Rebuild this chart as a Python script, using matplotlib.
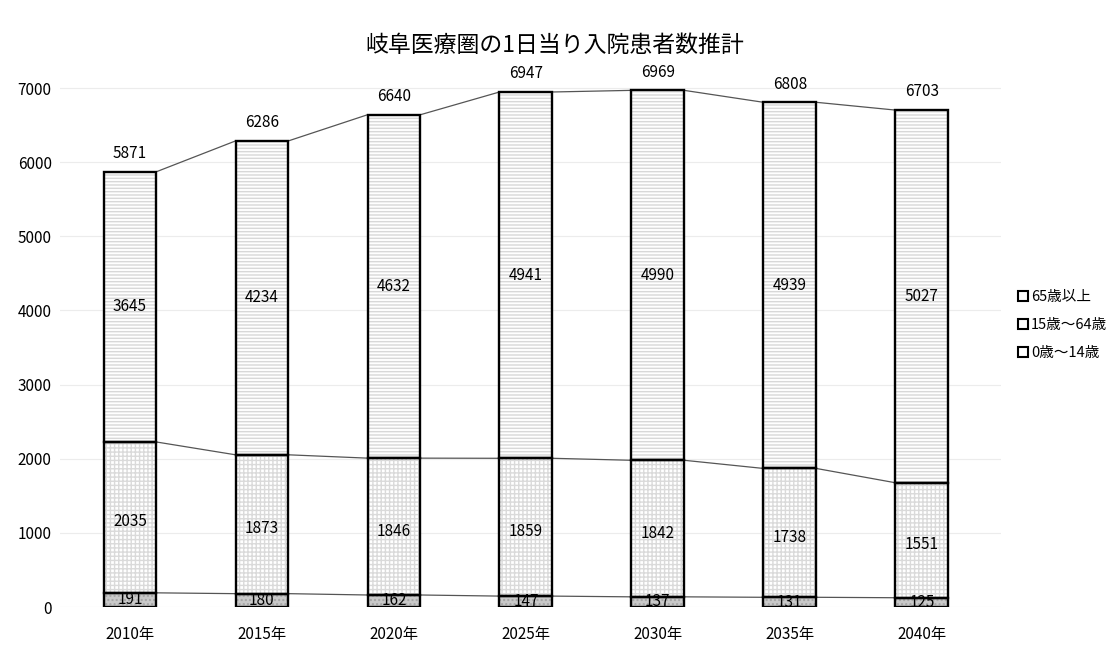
import numpy as np
import matplotlib
matplotlib.use('Agg')
import matplotlib.pyplot as plt
from matplotlib.patches import Patch

plt.rcParams['font.family'] = ['Noto Sans CJK JP', 'DejaVu Sans']

years = ['2010年', '2015年', '2020年', '2025年', '2030年', '2035年', '2040年']
age_0_14 = [191, 180, 162, 147, 137, 131, 125]
age_15_64 = [2035, 1873, 1846, 1859, 1842, 1738, 1551]
age_65 = [3645, 4234, 4632, 4941, 4990, 4939, 5027]
totals = [5871, 6286, 6640, 6947, 6969, 6808, 6703]

fig = plt.figure(figsize=(11.1, 6.45), dpi=100)
ax = fig.add_axes([60 / 1110, 38 / 645, 941 / 1110, 556 / 645])

x = np.arange(len(years))
w = 0.40
a = np.array(age_0_14)
b = np.array(age_15_64)
c = np.array(age_65)

# fill layer with patterns, then a black outline on top
ax.bar(x, a, w, color='#c9c9c9', edgecolor='#a5a5a5', hatch='....', linewidth=0, zorder=2)
ax.bar(x, b, w, bottom=a, color='white', edgecolor='#dadada', hatch='++++', linewidth=0, zorder=2)
ax.bar(x, c, w, bottom=a + b, color='white', edgecolor='#d8d8d8', hatch='-----', linewidth=0, zorder=2)
for vals, bot in [(a, 0), (b, a), (c, a + b)]:
    ax.bar(x, vals, w, bottom=bot, fill=False, edgecolor='black', linewidth=1.7, zorder=3)

# series lines between bars
for level in [a, a + b, a + b + c]:
    for i in range(len(x) - 1):
        ax.plot([x[i] + w / 2, x[i + 1] - w / 2], [level[i], level[i + 1]],
                color='#555555', linewidth=0.9, zorder=1)

# value labels
fs = 11
for i in range(len(x)):
    ax.text(x[i], a[i] / 2, str(age_0_14[i]), ha='center', va='center', fontsize=fs, zorder=4)
    ax.text(x[i], a[i] + b[i] / 2 - 60, str(age_15_64[i]), ha='center', va='center', fontsize=fs, zorder=4)
    ax.text(x[i], a[i] + b[i] + c[i] / 2, str(age_65[i]), ha='center', va='center', fontsize=fs, zorder=4)
    ax.text(x[i], a[i] + b[i] + c[i] + 130, str(totals[i]), ha='center', va='bottom', fontsize=fs, zorder=4)

ax.set_xlim(-0.53, 6.6)
ax.set_ylim(0, 7500)
ax.set_yticks(range(0, 8000, 1000))
ax.set_xticks(x)
ax.set_xticklabels(years, fontsize=fs)
ax.tick_params(axis='y', length=0, labelsize=fs, pad=6)
ax.tick_params(axis='x', length=0, pad=14)
for s in ax.spines.values():
    s.set_visible(False)
ax.grid(axis='y', color='#ececec', linewidth=0.8, zorder=0)
ax.set_axisbelow(True)

fig.text(0.5, 1 - 45 / 645, '岐阜医療圏の1日当り入院患者数推計', ha='center', va='center', fontsize=16.5)

handles = [Patch(facecolor='white', edgecolor='black', linewidth=1.5, label=l)
           for l in ['65歳以上', '15歳～64歳', '0歳～14歳']]
fig.legend(handles=handles, loc='center left', bbox_to_anchor=(1005 / 1110, 1 - 325 / 645),
           frameon=False, fontsize=10.5, handlelength=0.7, handleheight=0.7,
           handletextpad=0.2, labelspacing=0.95)

fig.savefig('out.png', dpi=100)
